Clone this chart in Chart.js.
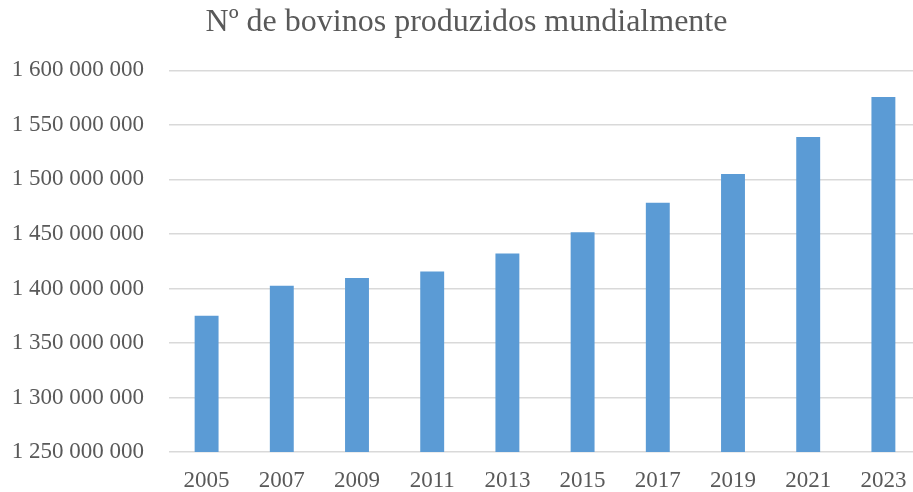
<!DOCTYPE html>
<html>
<head>
<meta charset="utf-8">
<script src="https://cdn.jsdelivr.net/npm/chart.js@4.4.0/dist/chart.umd.min.js"></script>
<style>
  html, body { margin: 0; padding: 0; background: #ffffff; overflow: hidden; }
  #wrap { position: relative; width: 942px; height: 492px; }
</style>
</head>
<body>
<div id="wrap"><canvas id="c"></canvas></div>
<script>
const titleText = "Nº de bovinos produzidos mundialmente";
const years = ["2005", "2007", "2009", "2011", "2013", "2015", "2017", "2019", "2021", "2023"];
const cattle = [1375000000, 1402500000, 1409500000, 1415500000, 1432000000, 1451500000, 1478500000, 1505000000, 1539000000, 1575500000];
const yMin = 1250000000;
const yMax = 1600000000;
const yStep = 50000000;

function fmt(v) {
  return String(Math.round(v)).replace(/\B(?=(\d{3})+(?!\d))/g, " ");
}

const serif = "'Liberation Serif', 'Times New Roman', serif";

new Chart(document.getElementById("c"), {
  type: "bar",
  data: {
    labels: years,
    datasets: [{
      data: cattle,
      backgroundColor: "#5B9BD5",
      borderWidth: 0,
      barPercentage: 0.318,
      categoryPercentage: 1.0
    }]
  },
  options: {
    responsive: true,
    maintainAspectRatio: false,
    animation: false,
    layout: { padding: { left: 12, right: 21, top: 0, bottom: 0 } },
    plugins: {
      legend: { display: false },
      tooltip: { enabled: false },
      title: {
        display: true,
        text: titleText,
        color: "#595959",
        font: { family: serif, size: 32, weight: "normal", lineHeight: 1.2 },
        padding: { top: 3, bottom: 29 }
      }
    },
    scales: {
      x: {
        grid: { display: false, drawTicks: false },
        border: { display: false },
        afterFit: (s) => { s.height = 40; },
        ticks: {
          color: "#595959",
          padding: 17,
          font: { family: serif, size: 23, lineHeight: 1.0 },
          maxRotation: 0
        }
      },
      y: {
        min: yMin,
        max: yMax,
        grid: { color: "#d9d9d9", lineWidth: 1.5, drawTicks: false },
        border: { display: false },
        afterFit: (s) => { s.width = 157; },
        ticks: {
          stepSize: yStep,
          color: "#595959",
          padding: 25,
          font: { family: serif, size: 23 },
          callback: (v) => fmt(v)
        }
      }
    }
  }
});
</script>
</body>
</html>
